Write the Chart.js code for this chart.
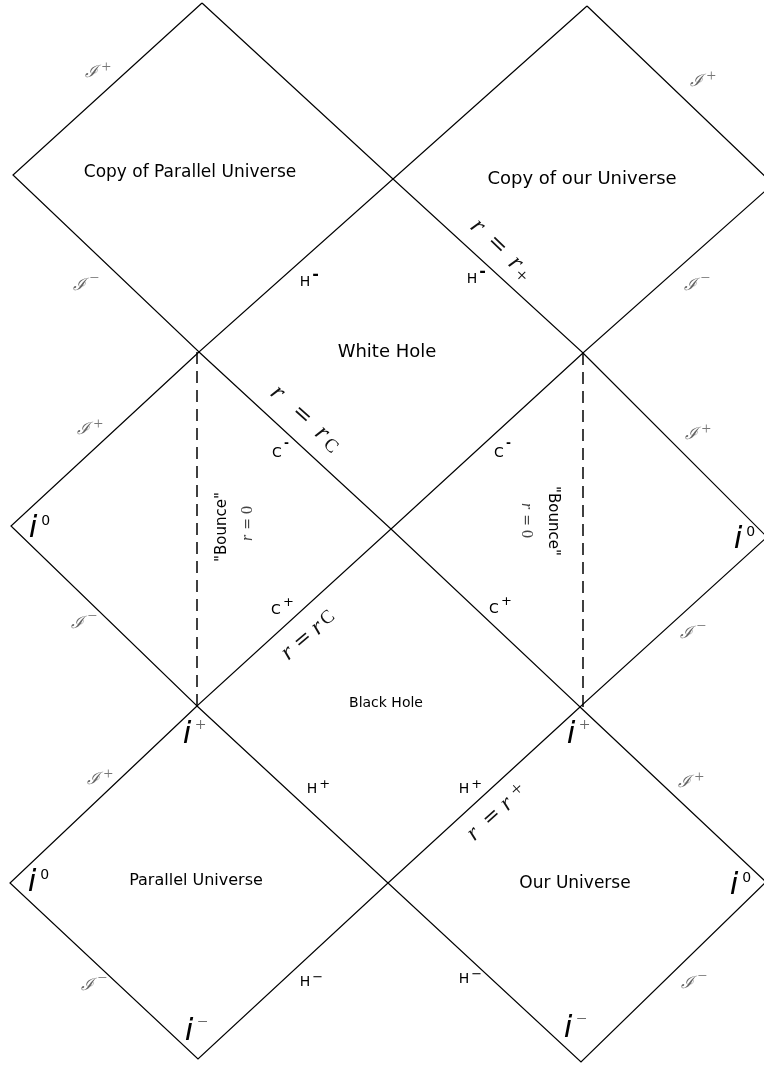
<!DOCTYPE html>
<html lang="en">
<head>
<meta charset="utf-8">
<title>Penrose diagram</title>
<script src="https://cdn.jsdelivr.net/npm/chart.js@4.4.1/dist/chart.umd.min.js"></script>
<style>
    html, body { margin: 0; padding: 0; background: #fff; }
    .chart-box { position: relative; width: 764px; height: 1066px; }
</style>
</head>
<body>
<div class="chart-box"><canvas id="penroseChart"></canvas></div>
<script>
// corners of each patch, diagram units (y grows downward)
const copyParallel = [[202, 3], [13, 175], [199, 352], [393, 179]];
const copyOurs     = [[587, 6], [393, 179], [583, 353], [773, 184]];
const leftMiddle   = [[199, 352], [11, 526], [197, 706], [391, 529]];
const rightMiddle  = [[583, 353], [391, 529], [580, 707], [767, 537]];
const parallelUni  = [[197, 706], [10, 883], [198, 1059], [388, 883]];
const ourUni       = [[580, 707], [388, 883], [581, 1062], [766, 882]];

// r = 0 "bounce" lines
const bounceLeft  = [[197, 352], [197, 706]];
const bounceRight = [[583, 353], [583, 707]];

// region names
const regionNames = ['Copy of Parallel Universe', 'Copy of our Universe', 'White Hole', 'Black Hole', 'Parallel Universe', 'Our Universe'];
const regionX = [190, 582, 387, 386, 196, 575];
const regionY = [177, 184, 357, 707, 885, 888];

// null infinity
const scriSign = ['+', '−', '+', '−', '+', '−', '+', '−', '+', '−', '+', '−'];
const scriX = [91, 79, 696, 690, 83, 77, 691, 686, 93, 87, 684, 687];
const scriY = [77, 290, 86, 290, 434, 628, 439, 638, 784, 990, 787, 988];

// horizons H and Cauchy horizons C
const horizonBase = ['H', 'H', 'C', 'C', 'C', 'C', 'H', 'H', 'H', 'H'];
const horizonSign = ['-', '-', '-', '-', '+', '+', '+', '−', '+', '−'];
const horizonX = [305, 472, 277, 499, 276, 494, 312, 305, 464, 464];
const horizonY = [286, 283, 457, 457, 614, 613, 793, 986, 793, 983];

// i0, i+, i-
const infSign = ['0', '0', '0', '0', '+', '+', '−', '−'];
const infX = [33, 738, 32, 734, 187, 571, 189, 568];
const infY = [537, 548, 891, 894, 743, 743, 1040, 1037];

document.addEventListener('DOMContentLoaded', function () {

    // =========================================================
    // 1. DATASETS — one closed polyline per patch
    // =========================================================
    const toPts = arr => arr.map(p => ({ x: p[0], y: p[1] }));
    const closed = arr => toPts(arr.concat([arr[0]]));

    const patches = [copyParallel, copyOurs, leftMiddle, rightMiddle, parallelUni, ourUni];

    const datasets = patches.map(p => ({
        data: closed(p),
        showLine: true,
        borderColor: '#000',
        borderWidth: 1.2,
        pointRadius: 0,
        fill: false,
        tension: 0,
    }));

    [bounceLeft, bounceRight].forEach(b => {
        datasets.push({
            data: toPts(b),
            showLine: true,
            borderColor: '#111',
            borderWidth: 1.6,
            borderDash: [12, 7],
            pointRadius: 0,
            fill: false,
        });
    });

    // =========================================================
    // 2. LABEL PLUGIN
    // =========================================================
    const SANS  = '"DejaVu Sans", sans-serif';
    const SERIF = '"Liberation Serif", serif';

    function supText(ctx, base, sup, x, y, baseFont, supFont, baseColor, supColor, lift, gap) {
        ctx.font = baseFont;
        ctx.fillStyle = baseColor;
        ctx.textAlign = 'center';
        ctx.textBaseline = 'alphabetic';
        ctx.fillText(base, x, y);
        const w = ctx.measureText(base).width;
        ctx.font = supFont;
        ctx.fillStyle = supColor;
        ctx.textAlign = 'left';
        ctx.textBaseline = 'middle';
        ctx.fillText(sup, x + w / 2 + gap, y - lift);
    }

    // glyph runs along a rotated axis: [text, font, offset along, offset across]
    function mathRun(ctx, x, y, angle, parts, color) {
        ctx.save();
        ctx.translate(x, y);
        ctx.rotate(angle * Math.PI / 180);
        ctx.fillStyle = color;
        ctx.textAlign = 'center';
        ctx.textBaseline = 'middle';
        parts.forEach(p => {
            ctx.font = p[1];
            ctx.fillText(p[0], p[2], p[3]);
        });
        ctx.restore();
    }

    const labelPlugin = {
        id: 'penroseLabels',
        afterDatasetsDraw(chart) {
            const ctx = chart.ctx;
            const sx = chart.scales.x, sy = chart.scales.y;
            const px = v => sx.getPixelForValue(v);
            const py = v => sy.getPixelForValue(v);

            ctx.save();

            // region names
            const regionSize = [17, 18, 18, 14, 16, 17];
            regionNames.forEach((name, i) => {
                ctx.font = regionSize[i] + 'px ' + SANS;
                ctx.fillStyle = '#000';
                ctx.textAlign = 'center';
                ctx.textBaseline = 'alphabetic';
                ctx.fillText(name, px(regionX[i]), py(regionY[i]));
            });

            // scri +/-
            scriSign.forEach((s, i) => {
                supText(ctx, 'ℐ', s, px(scriX[i]), py(scriY[i]),
                    'italic 17px "DejaVu Serif", serif', '17px ' + SERIF,
                    '#666', '#777', s === '+' ? 9 : 11, 4);
            });

            // horizons
            horizonBase.forEach((b, i) => {
                const s = horizonSign[i];
                const bar = s === '-';
                const supFont = bar ? (b === 'C' ? 'bold 12px ' : 'bold 16px ') + SANS : '13px ' + SANS;
                const lift = bar ? (b === 'C' ? 13 : 11) : (b === 'C' ? 11 : 8);
                supText(ctx, b, s, px(horizonX[i]), py(horizonY[i]),
                    '14px ' + SANS, supFont, '#000', '#000', lift, 2);
            });

            // i0, i+, i-
            infSign.forEach((s, i) => {
                const zero = s === '0';
                supText(ctx, 'i', s, px(infX[i]), py(infY[i]),
                    'italic 31px ' + SANS, zero ? '14px ' + SANS : '19px ' + SERIF,
                    '#000', zero ? '#000' : '#666', zero ? 16 : 17, 4);
            });

            // r = r+ / r = rC along the horizons
            const big = 'italic 26px ' + SERIF, eq = '23px "DejaVu Serif", serif';
            mathRun(ctx, px(497), py(245), 44, [
                ['r', big, -27, 0], ['=', eq, 0, 0], ['r', big, 26, 0], ['+', '21px ' + SERIF, 39, 6]
            ], '#111');
            mathRun(ctx, px(302), py(415), 42, [
                ['r', big, -33, 0], ['=', eq, 0, 0], ['r', big, 27, 0], ['C', '19px ' + SERIF, 42, 4]
            ], '#111');
            const mid = 'italic 24px ' + SERIF, eq2 = '21px "DejaVu Serif", serif';
            mathRun(ctx, px(303), py(640), -40, [
                ['r', mid, -20, 0], ['=', eq2, 0, 0], ['r', mid, 19, 0], ['C', '19px ' + SERIF, 33, -1]
            ], '#111');
            mathRun(ctx, px(492), py(817), -42, [
                ['r', mid, -25, 0], ['=', eq2, 0, 0], ['r', mid, 20, 0], ['+', '21px ' + SERIF, 37, -3]
            ], '#111');

            // "Bounce" r = 0
            const small = 'italic 16px ' + SERIF, eq3 = '14px "DejaVu Serif", serif';
            mathRun(ctx, px(222), py(527), -90, [['"Bounce"', '15px ' + SANS, 0, 0]], '#000');
            mathRun(ctx, px(248), py(524), -90, [
                ['r', small, -14, 0], ['=', eq3, 0, 0], ['0', '16px ' + SERIF, 14, 0]
            ], '#444');
            mathRun(ctx, px(553), py(521), 90, [['"Bounce"', '15px ' + SANS, 0, 0]], '#000');
            mathRun(ctx, px(526), py(520), 90, [
                ['r', small, -14, 0], ['=', eq3, 0, 0], ['0', '16px ' + SERIF, 14, 0]
            ], '#444');

            ctx.restore();
        }
    };

    // =========================================================
    // 3. CHART
    // =========================================================
    new Chart(document.getElementById('penroseChart'), {
        type: 'scatter',
        data: { datasets: datasets },
        options: {
            responsive: true,
            maintainAspectRatio: false,
            animation: false,
            layout: { padding: 0 },
            plugins: {
                legend: { display: false },
                tooltip: { enabled: false },
            },
            scales: {
                x: { type: 'linear', min: 0, max: 764, display: false },
                y: { type: 'linear', min: 0, max: 1066, reverse: true, display: false },
            }
        },
        plugins: [labelPlugin]
    });

});
</script>
</body>
</html>
